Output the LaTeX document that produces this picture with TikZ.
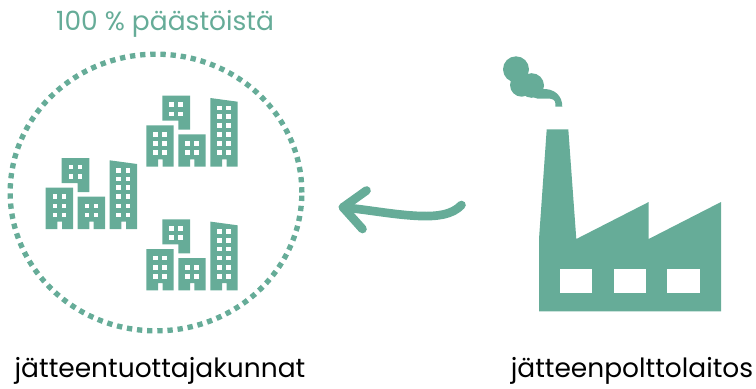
\documentclass[tikz,border=0pt]{standalone}
\usepackage{fontspec}
\setmainfont{Poppins}
\usetikzlibrary{positioning,shapes.geometric}
\definecolor{paastovihrea}{HTML}{66AC98}
\tikzset{
  x=0.03cm, y=-0.03cm,
  solidshape/.style={fill=paastovihrea, draw=none},
  windowbox/.style={fill=white, draw=none},
  caption/.style={font=\fontsize{22.6}{26}\selectfont, text=black, inner sep=0pt, anchor=base},
  dotring/.style={ellipse, draw=paastovihrea, line width=0.16cm, dash pattern=on 0.16cm off 0.145cm,
                  minimum width=8.75cm, minimum height=8.3cm, inner sep=0pt},
  bentarrow/.style={draw=paastovihrea, line width=0.26cm, line cap=round, line join=round},
  cityblock/.pic={
    \fill[solidshape] (0,0) -- (0,-41.3) -- (27.3,-41.3) -- (27.3,0) -- (16.3,0) -- (16.3,-7.3) -- (11.7,-7.3) -- (11.7,0) -- cycle;
    \fill[solidshape] (32,0) -- (32,-32.3) -- (59.3,-32.3) -- (59.3,0) -- (48,0) -- (48,-7.3) -- (43.7,-7.3) -- (43.7,0) -- cycle;
    \fill[solidshape] (64,0) -- (64,-68.7) -- (91.3,-65) -- (91.3,0) -- (80.3,0) -- (80.3,-7.3) -- (75.7,-7.3) -- (75.7,0) -- cycle;
    \fill[solidshape] (16,-71) -- (43.7,-71) -- (43.7,-37) -- (32,-37) -- (32,-46) -- (16,-46) -- cycle;
    \foreach \wx/\wy in {9.3/-32.3,18.3/-32.3,9.3/-23,18.3/-23,9.3/-14,18.3/-14,
                         41.3/-23,50.3/-23,41.3/-14,50.3/-14,
                         25.3/-62,34.3/-62,25.3/-52.7,34.3/-52.7,
                         73/-58.7,82.3/-58.7,73/-50,82.3/-50,73/-41.3,82.3/-41.3,
                         73/-32.3,82.3/-32.3,73/-23,82.3/-23,73/-14,82.3/-14}
      \fill[windowbox] (\wx-2.3,\wy-2.3) rectangle (\wx+2.3,\wy+2.3);
  }
}

\begin{document}
\begin{tikzpicture}
  \useasboundingbox (0,0) rectangle (756,388);

  \node[dotring] (ring) at (156,192.5) {};
  \pic at (146.3,166.7) {cityblock};
  \pic at (45.7,229) {cityblock};
  \pic at (146.3,290.3) {cityblock};

  % factory
  \fill[solidshape] (539,311.3) -- (721,311.3) -- (721,202) -- (648.7,239) -- (648.7,202) -- (576.3,239)
    -- (568.3,129.3) -- (546.7,129.3) -- (539,239) -- cycle;
  \fill[windowbox] (560,268.7) rectangle (592.3,292.7);
  \fill[windowbox] (614,268.7) rectangle (646,292.7);
  \fill[windowbox] (667.3,268.7) rectangle (700,292.7);

  % smoke
  \fill[solidshape] (516,69.3) circle (13);
  \fill[solidshape] (531.7,85.5) circle (12.3);
  \fill[solidshape] (521.7,85) circle (11.7);
  \fill[solidshape] (524,92) -- (541,89) .. controls (555,88) and (562.3,96) .. (562.3,106.7) -- (555.3,106.7)
    -- (555.3,103) .. controls (555.3,100) and (552,98.5) .. (548,98.5) -- (537,98.5) -- (530,96) -- cycle;

  \coordinate (arrowtail) at (461.5,205);
  \coordinate (arrowtip) at (343,207.3);
  \coordinate (headup) at (366.5,190.5);
  \coordinate (headdown) at (362.5,229);
  \draw[bentarrow] (arrowtail) .. controls (452,215) and (437,216.5) .. (420,216) .. controls (395,215) and (370,210) .. (arrowtip);
  \draw[bentarrow] (headup) -- (arrowtip) -- (headdown);

  \node[caption, text=paastovihrea] (paastot) at (165,30) {100 \% päästöistä};
  \node[caption] (tuottajat) at (160,377) {jätteentuottajakunnat};
  \node[caption] (laitos) at (632,377) {jätteenpolttolaitos};
\end{tikzpicture}
\end{document}
